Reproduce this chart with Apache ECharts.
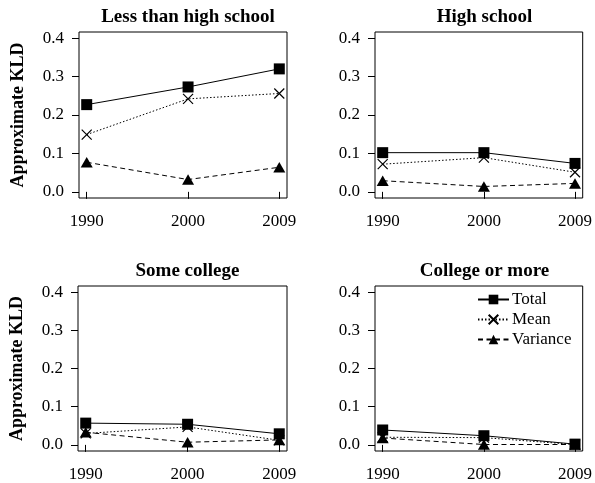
<!DOCTYPE html>
<html><head><meta charset="utf-8">
<script src="https://cdn.jsdelivr.net/npm/echarts@6/dist/echarts.min.js"></script>
<style>html,body{margin:0;padding:0;background:#fff}#c{width:595px;height:483px}</style>
</head><body><div id="c"></div>
<script>
const years = [1990, 2000, 2009];
const yTicks = [0, 0.1, 0.2, 0.3, 0.4];
const panelTitles = ['Less than high school', 'High school', 'Some college', 'College or more'];
const seriesNames = ['Total', 'Mean', 'Variance'];

// panel 1: Less than high school
const totalLths = [0.227, 0.273, 0.320];
const meanLths = [0.149, 0.242, 0.256];
const varLths = [0.077, 0.032, 0.064];
// panel 2: High school
const totalHs = [0.102, 0.102, 0.074];
const meanHs = [0.072, 0.089, 0.051];
const varHs = [0.029, 0.014, 0.022];
// panel 3: Some college
const totalSc = [0.057, 0.054, 0.029];
const meanSc = [0.030, 0.047, 0.012];
const varSc = [0.033, 0.007, 0.013];
// panel 4: College or more
const totalCm = [0.039, 0.024, 0.002];
const meanCm = [0.020, 0.019, 0.001];
const varCm = [0.018, 0.001, 0.001];

const panels = [
  [totalLths, meanLths, varLths],
  [totalHs, meanHs, varHs],
  [totalSc, meanSc, varSc],
  [totalCm, meanCm, varCm]
];

const FONT = 'Liberation Serif';
const grids = [
  {left: 79, top: 32, width: 208, height: 166},
  {left: 375, top: 32, width: 209, height: 166},
  {left: 78, top: 286, width: 209, height: 166},
  {left: 375, top: 286, width: 209, height: 166}
];

const styles = [
  {symbol: 'rect', symbolSize: 11, lineType: 'solid', itemStyle: {color: '#000'}},
  {symbol: 'path://M0,0L10,10M10,0L0,10', symbolSize: 10, lineType: [1.5, 2],
   itemStyle: {color: 'rgba(0,0,0,0)', borderColor: '#000', borderWidth: 1.2}},
  {symbol: 'triangle', symbolSize: [12, 10.5], lineType: [5, 3.5], itemStyle: {color: '#000'}}
];

const option = {
  animation: false,
  backgroundColor: '#fff',
  textStyle: {fontFamily: FONT, color: '#000'},
  title: grids.map((g, i) => ({
    text: panelTitles[i],
    left: g.left + g.width / 2,
    top: g.top - 29,
    textAlign: 'center',
    textStyle: {fontFamily: FONT, fontWeight: 'bold', fontSize: 19, color: '#000'}
  })),
  legend: {
    data: seriesNames,
    orient: 'vertical',
    left: 477,
    top: 291,
    itemWidth: 31,
    itemHeight: 12,
    itemGap: 3,
    textStyle: {fontFamily: FONT, fontSize: 17, color: '#000', padding: [0, 0, 0, -2]},
    padding: 0
  },
  grid: grids.map(g => Object.assign({show: true, borderColor: '#000', borderWidth: 1, backgroundColor: 'transparent'}, g)),
  xAxis: grids.map((g, i) => ({
    gridIndex: i, type: 'value', min: 1989.24, max: 2009.76,
    splitLine: {show: false},
    axisLine: {show: false},
    axisTick: {show: true, customValues: years, length: 7, inside: false, lineStyle: {color: '#000'}},
    axisLabel: {customValues: years, margin: 15, fontFamily: FONT, fontSize: 17, color: '#000',
      formatter: v => String(v)}
  })),
  yAxis: grids.map((g, i) => ({
    gridIndex: i, type: 'value', min: -0.016, max: 0.416,
    splitLine: {show: false},
    axisLine: {show: false},
    axisTick: {show: true, customValues: yTicks, length: 7, inside: false, lineStyle: {color: '#000'}},
    axisLabel: {customValues: yTicks, margin: 15, fontFamily: FONT, fontSize: 17, color: '#000',
      formatter: v => v.toFixed(1)},
    name: (i % 2 === 0) ? 'Approximate KLD' : '',
    nameLocation: 'middle',
    nameGap: 52,
    nameTextStyle: {fontFamily: FONT, fontWeight: 'bold', fontSize: 18, color: '#000'}
  })),
  series: []
};

panels.forEach((p, pi) => {
  p.forEach((vals, si) => {
    const st = styles[si];
    option.series.push({
      name: seriesNames[si],
      type: 'line',
      xAxisIndex: pi, yAxisIndex: pi,
      data: years.map((y, k) => [y, vals[k]]),
      symbol: st.symbol,
      symbolSize: st.symbolSize,
      showAllSymbol: true,
      color: '#000',
      itemStyle: st.itemStyle,
      lineStyle: {color: '#000', width: 1, type: st.lineType},
      z: 3 - si
    });
  });
});

const chart = echarts.init(document.getElementById('c'), null, {renderer: 'canvas'});
chart.setOption(option);
</script></body></html>
